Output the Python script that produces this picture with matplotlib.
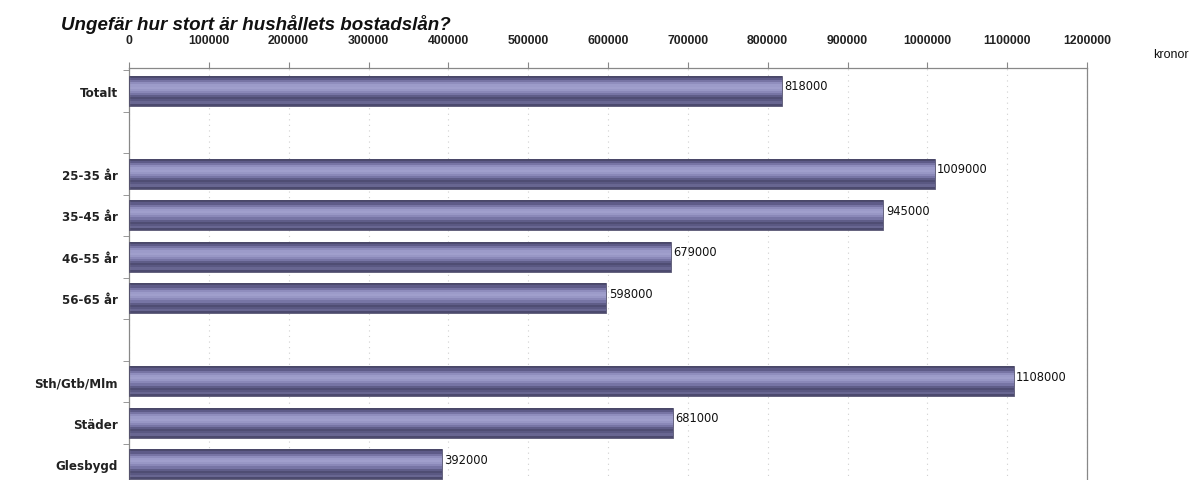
import matplotlib
matplotlib.use("Agg")
import matplotlib.pyplot as plt
import numpy as np

categories = ["Totalt", "", "25-35 år", "35-45 år", "46-55 år", "56-65 år", "", "Sth/Gtb/Mlm", "Städer", "Glesbygd"]
values = [818000, None, 1009000, 945000, 679000, 598000, None, 1108000, 681000, 392000]
xticks = list(range(0, 1200001, 100000))

W, H = 1196, 481
fig = plt.figure(figsize=(W / 100, H / 100), dpi=100)
ax_left, ax_right = 129 / W, 1087 / W
slot = 41.5
n = len(categories)
top_off = 0.55          # slots between axis line and first bar centre
ax_top_px = 69
ax_h_px = slot * (n - 0.5 + top_off) + 5
ax = fig.add_axes([ax_left, 1 - (ax_top_px + ax_h_px) / H, ax_right - ax_left, ax_h_px / H])

pos = np.arange(n)
idx = [i for i, v in enumerate(values) if v is not None]
vals = [values[i] for i in idx]
ys = [pos[i] for i in idx]

# cylinder-like gradient, top to bottom strips
bar_h = 0.72
strip_cols = ["#4c4a6e", "#5e5b88", "#7774a4", "#8f8dbd", "#9c9bc9", "#a09fcc",
              "#9897c5", "#8a88b8", "#7775a5", "#5f5d88", "#4f4d73", "#5a5882",
              "#686691", "#4c4a6e"]
ns = len(strip_cols)
sh = bar_h / ns
for k, col in enumerate(strip_cols):
    off = -bar_h / 2 + sh * (k + 0.5)
    ax.barh([y + off for y in ys], vals, height=sh * 1.05, color=col, edgecolor="none", zorder=2)
ax.barh(ys, vals, height=bar_h, facecolor="none", edgecolor="#4a4868", linewidth=0.6, zorder=3)

for y, v in zip(ys, vals):
    ax.text(v + 3000, y - 0.12, f"{v}", va="center", ha="left", fontsize=8.3, color="#111111")

ax.set_xlim(0, 1200000)
ax.set_ylim(n - 0.5 + (5 / slot), -top_off)
ax.xaxis.tick_top()
ax.set_xticks(xticks)
ax.set_xticklabels([str(t) for t in xticks], fontsize=8.8, fontweight="bold",
                   family="Liberation Sans", color="#222222")
ax.tick_params(axis="x", length=4, color="#888888", pad=12)
ax.set_yticks(pos)
ax.set_yticklabels(categories, fontsize=8.6, fontweight="bold", color="#222222")
ax.set_yticks(np.arange(n + 1) - 0.5, minor=True)
ax.tick_params(axis="y", which="major", length=0, pad=8)
ax.tick_params(axis="y", which="minor", length=4, color="#888888")
ax.xaxis.grid(True, linestyle=(0, (1, 4)), color="#d0d0d0", linewidth=0.8, zorder=0)
ax.set_axisbelow(True)
for s in ["top", "left", "right"]:
    ax.spines[s].set_color("#888888")
    ax.spines[s].set_linewidth(0.9)
ax.spines["bottom"].set_visible(False)

fig.text(61 / W, 1 - 25 / H, "Ungefär hur stort är hushållets bostadslån?", fontsize=13.5,
         fontweight="bold", fontstyle="italic", family="Liberation Sans",
         ha="left", va="center", color="#111111")
fig.text(1153 / W, 1 - 55 / H, "kronor", fontsize=9, family="Liberation Sans",
         ha="left", va="center", color="#111111")

fig.savefig("out.png", dpi=100)
